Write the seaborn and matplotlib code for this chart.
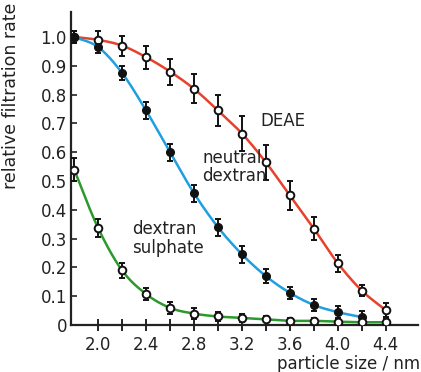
import numpy as np
import pandas as pd
import matplotlib
matplotlib.use("Agg")
import matplotlib.pyplot as plt
import seaborn as sns

sns.set_style("ticks")
plt.rcParams["font.family"] = ["DejaVu Sans"]

size = [1.8, 2.0, 2.2, 2.4, 2.6, 2.8, 3.0, 3.2, 3.4, 3.6, 3.8, 4.0, 4.2, 4.4]

deae = [1.0, 0.99, 0.97, 0.93, 0.88, 0.82, 0.745, 0.665, 0.565, 0.45, 0.335, 0.215, 0.12, 0.052]
deae_err = [0.02, 0.03, 0.035, 0.04, 0.045, 0.05, 0.055, 0.06, 0.06, 0.05, 0.04, 0.03, 0.02, 0.025]

neutral = [1.0, 0.965, 0.875, 0.745, 0.60, 0.458, 0.34, 0.246, 0.17, 0.112, 0.07, 0.045, 0.028]
neutral_err = [0.02, 0.02, 0.025, 0.03, 0.03, 0.03, 0.03, 0.03, 0.025, 0.02, 0.02, 0.02, 0.02]

sulphate = [0.54, 0.337, 0.19, 0.108, 0.06, 0.04, 0.03, 0.025, 0.02, 0.015, 0.015, 0.012, 0.01, 0.01]
sulphate_err = [0.04, 0.03, 0.025, 0.02, 0.02, 0.02, 0.015, 0.015, 0.01, 0.01, 0.01, 0.01, 0.01, 0.01]

xticks = [2.0, 2.4, 2.8, 3.2, 3.6, 4.0, 4.4]
yticks = [0, 0.1, 0.2, 0.3, 0.4, 0.5, 0.6, 0.7, 0.8, 0.9, 1.0]


def smooth(xs, ys, n=20):
    # catmull-rom spline through the measured points
    x = np.asarray(xs, float)
    y = np.asarray(ys, float)
    px = np.concatenate([[2 * x[0] - x[1]], x, [2 * x[-1] - x[-2]]])
    py = np.concatenate([[2 * y[0] - y[1]], y, [2 * y[-1] - y[-2]]])
    ox, oy = [], []
    t = np.linspace(0, 1, n, endpoint=False)
    for i in range(1, len(px) - 2):
        for arr, out in ((px, ox), (py, oy)):
            p0, p1, p2, p3 = arr[i - 1], arr[i], arr[i + 1], arr[i + 2]
            out.extend(0.5 * (2 * p1 + (-p0 + p2) * t + (2 * p0 - 5 * p1 + 4 * p2 - p3) * t ** 2
                              + (-p0 + 3 * p1 - 3 * p2 + p3) * t ** 3))
    ox.append(x[-1])
    oy.append(y[-1])
    return np.array(ox), np.array(oy)


fig = plt.figure(figsize=(4.21, 3.72), dpi=100)
ax = fig.add_axes([0.169, 0.126, 0.824, 0.842])

curves = []
for name, vals in (("DEAE", deae), ("neutral", neutral), ("sulphate", sulphate)):
    cx, cy = smooth(size[:len(vals)], vals)
    curves.append(pd.DataFrame({"x": cx, "y": cy, "series": name}))
curves = pd.concat(curves)

sns.lineplot(data=curves, x="x", y="y", hue="series", sort=False, estimator=None,
             palette={"DEAE": "#e8412b", "neutral": "#1f9fe0", "sulphate": "#2b9a2b"},
             linewidth=1.8, legend=False, ax=ax, zorder=2)

err_kw = dict(ms=5.5, ecolor="#111111", elinewidth=1.4, capsize=2.5, capthick=1.4, zorder=3)
ax.errorbar(size, deae, yerr=deae_err, fmt="o", mfc="white", mec="#111111", mew=1.4, **err_kw)
ax.errorbar(size[:len(neutral)], neutral, yerr=neutral_err, fmt="o", mfc="#111111",
            mec="#111111", **err_kw)
ax.errorbar(size, sulphate, yerr=sulphate_err, fmt="o", mfc="white", mec="#111111", mew=1.4,
            **err_kw)

ax.set_xlim(1.775, 4.67)
ax.set_ylim(0, 1.087)
ax.set_xticks(xticks)
ax.set_xticklabels([f"{v:.1f}" for v in xticks])
ax.set_xticks([2.2, 2.6, 3.0, 3.4, 3.8, 4.2], minor=True)
ax.set_yticks(yticks)
ax.set_yticklabels(["0"] + [f"{v:.1f}" for v in yticks[1:]])
ax.tick_params(axis="x", which="both", direction="inout", length=8, width=1.4,
               labelsize=12, colors="#222222", pad=4)
ax.tick_params(axis="y", direction="in", length=4, width=1.2, labelsize=12,
               colors="#222222", pad=3)
ax.set_xlabel("")
ax.set_ylabel("")
sns.despine(ax=ax)
for s in ("left", "bottom"):
    ax.spines[s].set_linewidth(1.6)
    ax.spines[s].set_color("#222222")

ax.text(3.35, 0.71, "DEAE", fontsize=12, color="#222222", ha="left", va="center")
ax.text(2.87, 0.55, "neutral\ndextran", fontsize=12, color="#222222", ha="left",
        va="center", linespacing=1.0)
ax.text(2.28, 0.30, "dextran\nsulphate", fontsize=12, color="#222222", ha="left",
        va="center", linespacing=1.05)

fig.text(0.998, -0.004, "particle size / nm", fontsize=12, color="#222222",
         ha="right", va="bottom")
fig.text(0.004, 0.992, "relative filtration rate", fontsize=12.5, color="#222222",
         rotation=90, ha="left", va="top")

fig.savefig("out.png", dpi=100)
